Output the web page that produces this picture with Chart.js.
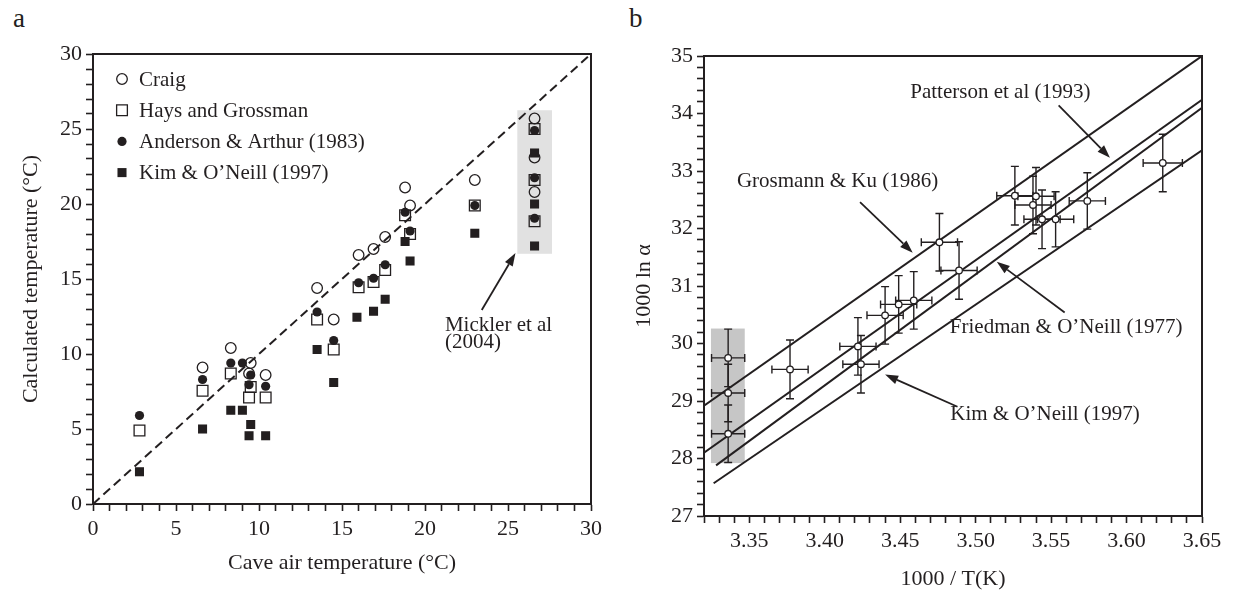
<!DOCTYPE html>
<html>
<head>
<meta charset="utf-8">
<script src="https://cdn.jsdelivr.net/npm/chart.js@4.4.0/dist/chart.umd.min.js"></script>
<style>
  body { margin: 0; background: #fff; width: 1235px; height: 590px; position: relative; overflow: hidden; font-family: "Liberation Serif", serif; }
  .panel { position: absolute; top: 0; }
  .tag { position: absolute; top: 3px; font-size: 27px; color: #231f20; font-family: "Liberation Serif", serif; }
</style>
</head>
<body>
<div class="tag" style="left:13px">a</div>
<div class="tag" style="left:629px">b</div>
<div class="panel" style="left:0"><canvas id="chartA" width="620" height="590"></canvas></div>
<div class="panel" style="left:620px"><canvas id="chartB" width="615" height="590"></canvas></div>
<script>
// ======================
// Panel a: calculated vs cave air temperature
// ======================
const craigX = [6.6, 8.3, 9.5, 9.4, 10.4, 13.5, 14.5, 16.0, 16.9, 17.6, 18.8, 19.1, 23.0, 26.6, 26.6, 26.6];
const craigY = [9.1, 10.4, 9.4, 8.7, 8.6, 14.4, 12.3, 16.6, 17.0, 17.8, 21.1, 19.9, 21.6, 25.7, 23.1, 20.8];

const haysX = [2.8, 6.6, 8.3, 9.5, 9.4, 10.4, 13.5, 14.5, 16.0, 16.9, 17.6, 18.8, 19.1, 23.0, 26.6, 26.6, 26.6];
const haysY = [4.9, 7.55, 8.7, 7.8, 7.1, 7.1, 12.3, 10.3, 14.45, 14.8, 15.6, 19.25, 18.0, 19.9, 25.0, 21.6, 18.85];

const andersonX = [2.8, 6.6, 8.3, 9.0, 9.5, 9.4, 10.4, 13.5, 14.5, 16.0, 16.9, 17.6, 18.8, 19.1, 23.0, 26.6, 26.6, 26.6];
const andersonY = [5.9, 8.3, 9.4, 9.4, 8.6, 7.95, 7.85, 12.8, 10.9, 14.75, 15.05, 15.95, 19.45, 18.2, 19.9, 24.9, 21.75, 19.05];

const kimX = [2.8, 6.6, 8.3, 9.0, 9.5, 9.4, 10.4, 13.5, 14.5, 15.9, 16.9, 17.6, 18.8, 19.1, 23.0, 26.6, 26.6, 26.6];
const kimY = [2.15, 5.0, 6.25, 6.25, 5.3, 4.55, 4.55, 10.3, 8.1, 12.45, 12.85, 13.65, 17.5, 16.2, 18.05, 23.4, 20.0, 17.2];

const oneToOneX = [0, 30];
const oneToOneY = [0, 30];

// Mickler et al (2004) shaded samples: [xmin, xmax], [ymin, ymax]
const micklerBoxX = [25.56, 27.65];
const micklerBoxY = [16.68, 26.25];

// ======================
// Panel b: 1000 ln alpha vs 1000/T
// ======================
const invT = [3.336, 3.336, 3.336, 3.377, 3.422, 3.424, 3.440, 3.449, 3.459, 3.476, 3.489, 3.526, 3.538, 3.540, 3.544, 3.553, 3.574, 3.624];
const lnAlpha = [29.75, 29.14, 28.43, 29.55, 29.95, 29.64, 30.49, 30.68, 30.75, 31.76, 31.27, 32.57, 32.41, 32.56, 32.16, 32.16, 32.48, 33.14];
const invTErr = [0.011, 0.011, 0.011, 0.012, 0.012, 0.012, 0.012, 0.012, 0.012, 0.012, 0.012, 0.012, 0.012, 0.012, 0.012, 0.012, 0.012, 0.013];
const lnAlphaErr = [0.5, 0.5, 0.5, 0.51, 0.5, 0.5, 0.5, 0.5, 0.5, 0.5, 0.5, 0.51, 0.5, 0.5, 0.51, 0.48, 0.49, 0.5];

const grossmanX = [3.32, 3.65];
const grossmanY = [28.92, 35.0];
const pattersonX = [3.32, 3.65];
const pattersonY = [28.10, 34.24];
const friedmanX = [3.328, 3.65];
const friedmanY = [27.88, 34.10];
const kimLineX = [3.3264, 3.65];
const kimLineY = [27.57, 33.36];

const shadeBoxX = [3.3246, 3.347];
const shadeBoxY = [27.92, 30.26];

const INK = "#231f20";
const SERIF = "'Liberation Serif', 'Times New Roman', serif";

function pts(xs, ys) {
  return xs.map((x, i) => ({ x: x, y: ys[i] }));
}

// ======================
// Small plugins
// ======================
const framePlugin = {
  id: "frame",
  afterDatasetsDraw(chart) {
    const { ctx, chartArea: a } = chart;
    ctx.save();
    ctx.strokeStyle = INK;
    ctx.lineWidth = 2;
    ctx.strokeRect(a.left, a.top, a.right - a.left, a.bottom - a.top);
    ctx.restore();
  },
};

const shadePlugin = {
  id: "shade",
  beforeDatasetsDraw(chart, args, opts) {
    const { ctx, scales: { x, y } } = chart;
    const x1 = x.getPixelForValue(opts.xs[0]);
    const x2 = x.getPixelForValue(opts.xs[1]);
    const y1 = y.getPixelForValue(opts.ys[1]);
    const y2 = y.getPixelForValue(opts.ys[0]);
    ctx.save();
    ctx.fillStyle = opts.color;
    ctx.fillRect(x1, y1, x2 - x1, y2 - y1);
    ctx.restore();
  },
};

const errorBarPlugin = {
  id: "errorBars",
  beforeDatasetsDraw(chart, args, opts) {
    const { ctx, scales: { x, y } } = chart;
    const cap = opts.cap;
    ctx.save();
    ctx.strokeStyle = INK;
    ctx.lineWidth = 1.4;
    opts.xs.forEach((v, i) => {
      const px = x.getPixelForValue(v);
      const py = y.getPixelForValue(opts.ys[i]);
      const xl = x.getPixelForValue(v - opts.xErr[i]);
      const xr = x.getPixelForValue(v + opts.xErr[i]);
      const yt = y.getPixelForValue(opts.ys[i] + opts.yErr[i]);
      const yb = y.getPixelForValue(opts.ys[i] - opts.yErr[i]);
      ctx.beginPath();
      ctx.moveTo(xl, py); ctx.lineTo(xr, py);
      ctx.moveTo(xl, py - cap); ctx.lineTo(xl, py + cap);
      ctx.moveTo(xr, py - cap); ctx.lineTo(xr, py + cap);
      ctx.moveTo(px, yt); ctx.lineTo(px, yb);
      ctx.moveTo(px - cap, yt); ctx.lineTo(px + cap, yt);
      ctx.moveTo(px - cap, yb); ctx.lineTo(px + cap, yb);
      ctx.stroke();
    });
    ctx.restore();
  },
};

// text + arrow notes, placed in data coordinates
const notesPlugin = {
  id: "notes",
  afterDatasetsDraw(chart, args, opts) {
    const { ctx, scales: { x, y } } = chart;
    ctx.save();
    ctx.fillStyle = INK;
    ctx.strokeStyle = INK;
    ctx.font = "21px " + SERIF;
    ctx.textBaseline = "middle";
    (opts.texts || []).forEach((t) => {
      ctx.textAlign = t.align || "center";
      ctx.fillText(t.text, x.getPixelForValue(t.x), y.getPixelForValue(t.y));
    });
    (opts.arrows || []).forEach((a) => {
      const x1 = x.getPixelForValue(a[0]), y1 = y.getPixelForValue(a[1]);
      const x2 = x.getPixelForValue(a[2]), y2 = y.getPixelForValue(a[3]);
      const ang = Math.atan2(y2 - y1, x2 - x1);
      const L = 13, W = 4.5;
      const bx = x2 - L * Math.cos(ang), by = y2 - L * Math.sin(ang);
      ctx.lineWidth = 1.8;
      ctx.beginPath();
      ctx.moveTo(x1, y1);
      ctx.lineTo(bx, by);
      ctx.stroke();
      ctx.beginPath();
      ctx.moveTo(x2, y2);
      ctx.lineTo(bx + W * Math.sin(ang), by - W * Math.cos(ang));
      ctx.lineTo(bx - W * Math.sin(ang), by + W * Math.cos(ang));
      ctx.closePath();
      ctx.fill();
    });
    ctx.restore();
  },
};

function drawMarker(ctx, ds, x, y) {
  const r = ds.pointRadius;
  ctx.beginPath();
  if (ds.pointStyle === "rect") {
    const s = r * Math.SQRT1_2;
    ctx.rect(x - s, y - s, 2 * s, 2 * s);
  } else {
    ctx.arc(x, y, r, 0, Math.PI * 2);
  }
  if (ds.pointBorderWidth > 0) {
    ctx.lineWidth = ds.pointBorderWidth;
    ctx.strokeStyle = ds.pointBorderColor;
    ctx.stroke();
  } else {
    ctx.fillStyle = ds.pointBackgroundColor;
    ctx.fill();
  }
}

// legend inside the plot, top-left
const insetLegendPlugin = {
  id: "insetLegend",
  afterDraw(chart, args, opts) {
    const { ctx, chartArea } = chart;
    ctx.save();
    ctx.font = "21px " + SERIF;
    ctx.textBaseline = "middle";
    ctx.textAlign = "left";
    opts.labels.forEach((label, i) => {
      const ds = chart.data.datasets.find((d) => d.label === label);
      const yy = chartArea.top + 25 + i * 31.2;
      drawMarker(ctx, ds, chartArea.left + 29, yy);
      ctx.fillStyle = INK;
      ctx.fillText(label, chartArea.left + 46, yy + 1);
    });
    ctx.restore();
  },
};

function axisCommon(extra) {
  return Object.assign({
    type: "linear",
    grid: { drawOnChartArea: false, drawTicks: true, tickLength: 7, tickWidth: 1.6, tickColor: INK },
    border: { display: true, color: INK, width: 2 },
  }, extra);
}

// ======================
// Chart a
// ======================
new Chart(document.getElementById("chartA"), {
  type: "scatter",
  data: {
    datasets: [
      {
        label: "Kim & O\u2019Neill (1997)", data: pts(kimX, kimY), order: 1,
        pointStyle: "rect", pointRadius: 6.4, pointBackgroundColor: INK, pointBorderColor: INK, pointBorderWidth: 0,
      },
      {
        label: "Anderson & Arthur (1983)", data: pts(andersonX, andersonY), order: 2,
        pointStyle: "circle", pointRadius: 4.6, pointBackgroundColor: INK, pointBorderColor: INK, pointBorderWidth: 0,
      },
      {
        label: "Hays and Grossman", data: pts(haysX, haysY), order: 3,
        pointStyle: "rect", pointRadius: 7.6, pointBackgroundColor: "rgba(0,0,0,0)", pointBorderColor: INK, pointBorderWidth: 1.3,
      },
      {
        label: "Craig", data: pts(craigX, craigY), order: 4,
        pointStyle: "circle", pointRadius: 5.3, pointBackgroundColor: "rgba(0,0,0,0)", pointBorderColor: INK, pointBorderWidth: 1.3,
      },
      {
        label: "1:1", data: pts(oneToOneX, oneToOneY), order: 5, showLine: true,
        borderColor: INK, borderWidth: 2, borderDash: [9, 5], pointRadius: 0,
      },
    ],
  },
  options: {
    responsive: false,
    animation: false,
    events: [],
    layout: { padding: { top: 54, right: 29, left: 0, bottom: 0 } },
    plugins: {
      legend: { display: false },
      tooltip: { enabled: false },
      shade: { xs: micklerBoxX, ys: micklerBoxY, color: "#e1e1e1" },
      insetLegend: { labels: ["Craig", "Hays and Grossman", "Anderson & Arthur (1983)", "Kim & O\u2019Neill (1997)"] },
      notes: {
        texts: [
          { text: "Mickler et al", x: 21.2, y: 11.93, align: "left" },
          { text: "(2004)", x: 21.2, y: 10.8, align: "left" },
        ],
        arrows: [[23.42, 12.93, 25.45, 16.73]],
      },
    },
    scales: {
      x: axisCommon({
        min: 0, max: 30,
        afterFit: (s) => { s.height = 86; },
        ticks: {
          stepSize: 1, autoSkip: false, maxRotation: 0, padding: 5, color: INK,
          font: { family: SERIF, size: 22 },
          callback: (v) => (v % 5 === 0 ? String(v) : ""),
        },
        title: { display: true, text: "Cave air temperature (\u00B0C)", color: INK, font: { family: SERIF, size: 22 }, padding: { top: 0, bottom: 14 } },
      }),
      y: axisCommon({
        min: 0, max: 30,
        afterFit: (s) => { s.width = 93; },
        ticks: {
          stepSize: 1, autoSkip: false, padding: 4, color: INK,
          font: { family: SERIF, size: 22 },
          callback: (v) => (v % 5 === 0 ? String(v) : ""),
        },
        title: { display: true, text: "Calculated temperature (\u00B0C)", color: INK, font: { family: SERIF, size: 22 }, padding: { top: 18, bottom: 0 } },
      }),
    },
  },
  plugins: [shadePlugin, framePlugin, insetLegendPlugin, notesPlugin],
});

// ======================
// Chart b
// ======================
function lineSet(label, xs, ys, order) {
  return { label: label, data: pts(xs, ys), order: order, showLine: true, borderColor: INK, borderWidth: 2, pointRadius: 0 };
}

new Chart(document.getElementById("chartB"), {
  type: "scatter",
  data: {
    datasets: [
      {
        label: "Samples", data: pts(invT, lnAlpha), order: 1,
        pointStyle: "circle", pointRadius: 3.3, pointBackgroundColor: "#ffffff", pointBorderColor: INK, pointBorderWidth: 1.3,
      },
      lineSet("Grosmann & Ku (1986)", grossmanX, grossmanY, 2),
      lineSet("Patterson et al (1993)", pattersonX, pattersonY, 3),
      lineSet("Friedman & O\u2019Neill (1977)", friedmanX, friedmanY, 4),
      lineSet("Kim & O\u2019Neill (1997)", kimLineX, kimLineY, 5),
    ],
  },
  options: {
    responsive: false,
    animation: false,
    events: [],
    layout: { padding: { top: 56, right: 33, left: 0, bottom: 0 } },
    plugins: {
      legend: { display: false },
      tooltip: { enabled: false },
      shade: { xs: shadeBoxX, ys: shadeBoxY, color: "#c6c6c6" },
      errorBars: { xs: invT, ys: lnAlpha, xErr: invTErr, yErr: lnAlphaErr, cap: 4 },
      notes: {
        texts: [
          { text: "Patterson et al (1993)", x: 3.5164, y: 34.37 },
          { text: "Grosmann & Ku (1986)", x: 3.4085, y: 32.81 },
          { text: "Friedman & O\u2019Neill (1977)", x: 3.560, y: 30.28 },
          { text: "Kim & O\u2019Neill (1997)", x: 3.546, y: 28.77 },
        ],
        arrows: [
          [3.555, 34.14, 3.589, 33.23],
          [3.4234, 32.46, 3.4583, 31.58],
          [3.559, 30.54, 3.514, 31.42],
          [3.488, 28.90, 3.440, 29.46],
        ],
      },
    },
    scales: {
      x: axisCommon({
        min: 3.32, max: 3.65,
        afterFit: (s) => { s.height = 74; },
        ticks: {
          stepSize: 0.01, autoSkip: false, maxRotation: 0, padding: 5, color: INK,
          font: { family: SERIF, size: 22 },
          callback: (v) => (Math.abs(v * 20 - Math.round(v * 20)) < 1e-6 ? v.toFixed(2) : ""),
        },
        title: { display: true, text: "1000 / T(K)", color: INK, font: { family: SERIF, size: 22, lineHeight: 1 }, padding: { top: 0, bottom: 0 } },
      }),
      y: axisCommon({
        min: 27, max: 35,
        afterFit: (s) => { s.width = 84; },
        ticks: {
          stepSize: 0.2, autoSkip: false, padding: 4, color: INK,
          font: { family: SERIF, size: 22 },
          callback: (v) => (Math.abs(v - Math.round(v)) < 1e-6 ? String(Math.round(v)) : ""),
        },
        title: { display: true, text: "1000 ln \u03B1", color: INK, font: { family: SERIF, size: 22 }, padding: { top: 11, bottom: 0 } },
      }),
    },
  },
  plugins: [shadePlugin, errorBarPlugin, framePlugin, notesPlugin],
});
</script>
</body>
</html>
